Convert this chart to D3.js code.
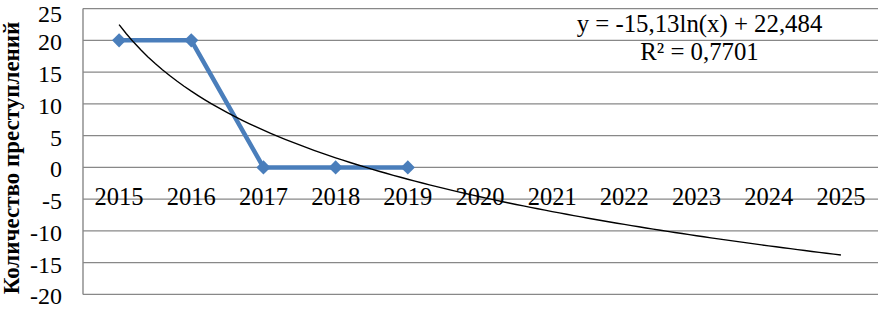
<!DOCTYPE html>
<html><head><meta charset="utf-8">
<script src="https://cdn.jsdelivr.net/npm/d3@7"></script>
<style>
html,body{margin:0;padding:0;background:#fff;}
svg{display:block;}
text{font-family:"Liberation Serif","Times New Roman",serif;}
</style></head>
<body>
<svg id="chart" width="878" height="312"></svg>
<script>
const years = ["2015","2016","2017","2018","2019","2020","2021","2022","2023","2024","2025"];
const crimeYears = ["2015","2016","2017","2018","2019"];
const crimeValues = [20, 20, 0, 0, 0];
const yTicks = [25, 20, 15, 10, 5, 0, -5, -10, -15, -20];
const trendCoef = [-15.13, 22.484]; // y = a*ln(x) + b
const trendLabel = ["y = -15,13ln(x) + 22,484", "R² = 0,7701"];
const yTitle = "Количество преступлений";

(function(){
const svg = d3.select("#chart");
const pLeft = 83, pRight = 877, pTop = 8.6, pBottom = 294.4;
const x = d3.scaleBand().domain(years).range([pLeft, pRight]).padding(0);
const y = d3.scaleLinear().domain([-20, 25]).range([pBottom, pTop]);
const cx = d => x(d) + x.bandwidth() / 2;

svg.append("g").selectAll("line").data(yTicks).join("line")
  .attr("x1", pLeft).attr("x2", pRight + 2)
  .attr("y1", d => y(d)).attr("y2", d => y(d))
  .attr("stroke", "#888").attr("stroke-width", 1.4);

svg.append("line").attr("x1", pLeft).attr("x2", pLeft)
  .attr("y1", y(25)).attr("y2", y(-20))
  .attr("stroke", "#888").attr("stroke-width", 1.4);

svg.append("g").selectAll("text").data(yTicks).join("text")
  .attr("x", 62).attr("y", d => Math.max(y(d) + 10, 21.5))
  .attr("text-anchor", "end").attr("font-size", 24).attr("fill", "#000")
  .text(d => d);

svg.append("g").selectAll("text").data(years).join("text")
  .attr("x", d => cx(d)).attr("y", y(0) + 37.5)
  .attr("text-anchor", "middle").attr("font-size", 24.5).attr("fill", "#000")
  .text(d => d);

svg.append("text")
  .attr("transform", `translate(19,158) rotate(-90)`)
  .attr("text-anchor", "middle").attr("font-size", 23).attr("font-weight", "bold")
  .attr("fill", "#000").text(yTitle);

const pts = crimeYears.map((d, i) => [cx(d), y(crimeValues[i])]);
svg.append("path").attr("d", d3.line()(pts))
  .attr("fill", "none").attr("stroke", "#4A7EBB").attr("stroke-width", 4.5)
  .attr("stroke-linejoin", "round");

svg.append("g").selectAll("path").data(pts).join("path")
  .attr("d", d3.symbol().type(d3.symbolSquare).size(100))
  .attr("transform", d => `translate(${d[0]},${d[1]}) rotate(45)`)
  .attr("fill", "#4A7EBB");

const tx = d3.range(1, 11.001, 0.1);
const tpts = tx.map(v => [cx(years[0]) + (v - 1) * x.bandwidth(), y(trendCoef[0] * Math.log(v) + trendCoef[1])]);
svg.append("path").attr("d", d3.line()(tpts))
  .attr("fill", "none").attr("stroke", "#000").attr("stroke-width", 1.4);

svg.append("text").attr("x", 699.5).attr("y", 32).attr("text-anchor", "middle")
  .attr("font-size", 24.8).attr("fill", "#000").text(trendLabel[0]);
svg.append("text").attr("x", 699.5).attr("y", 60).attr("text-anchor", "middle")
  .attr("font-size", 24.8).attr("fill", "#000").text(trendLabel[1]);
})();
</script>
</body></html>
